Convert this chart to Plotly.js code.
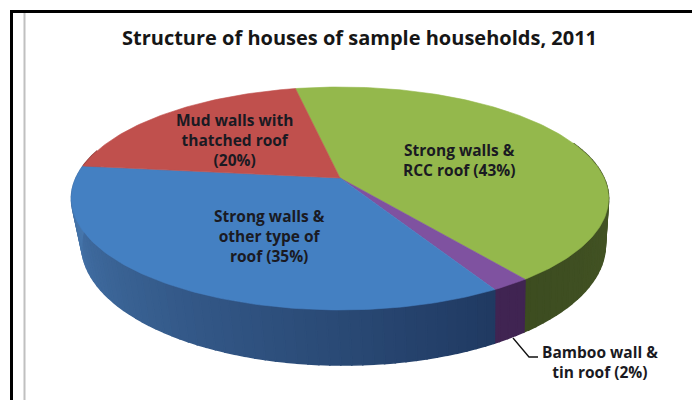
<!DOCTYPE html>
<html><head><meta charset="utf-8">
<script src="https://cdn.plot.ly/plotly-3.0.1.min.js"></script>
<style>html,body{margin:0;padding:0;background:#fff}#c{width:692px;height:400px}</style>
</head><body><div id="c"></div>
<script>
// Data
var categories = ["Strong walls & RCC roof", "Bamboo wall & tin roof", "Strong walls & other type of roof", "Mud walls with thatched roof"];
var values = [43, 2, 35, 20];
var labelTexts = ["Strong walls &<br>RCC roof (43%)", "Bamboo wall &<br>tin roof (2%)", "Strong walls &<br>other type of<br>roof (35%)", "Mud walls with<br>thatched roof<br>(20%)"];
var topColors = ["#94b84c", "#7f52a0", "#4480c2", "#c0504d"];
var wallFrom = [[86,104,48],[64,36,82],[32,58,98],[140,56,54]];   // colour at start angle of the slice wall
var wallTo   = [[60,76,32],[64,36,82],[74,124,180],[140,56,54]];  // colour at its end angle
var titleText = "Structure of houses of sample households, 2011";
var labelX = [459, 600, 269, 234];
var labelY = [160, 362, 236, 140];
var leaderX = [513, 529, 538];
var leaderY = [338, 357, 357];

// Projection of the tilted pie
var cx = 340, cy = 178, rx = 264, ry = 107.7, k = 0.1837, depth = 45, startAngle = -11.5;
function rad(d){ return d*Math.PI/180; }
function topPt(t){
  var X = Math.sin(rad(t)), Y = Math.cos(rad(t)), w = 1 + k*Y;
  return [cx + rx*X/w, cy - ry*Y/w];
}
function botPt(t){
  var p = topPt(t), Y = Math.cos(rad(t));
  return [p[0] - 0.025*(p[0]-480), p[1] + depth/(1 + k*Y)];
}
var bounds = [startAngle];
values.forEach(function(v,i){ bounds.push(bounds[i] + v*3.6); });

var traces = [];
function poly(xs, ys, color, w){
  traces.push({type:"scatter", mode:"lines", x:xs, y:ys, fill:"toself", fillcolor:color,
    line:{color:color, width:w}, hoverinfo:"skip", showlegend:false});
}
// Walls, in thin strips so the shading changes along the rim
var wallMin = 70, wallMax = 285, step = 2;
values.forEach(function(v,i){
  var a = Math.max(bounds[i], wallMin), b = Math.min(bounds[i+1], wallMax);
  for (var t = a; t < b; t += step){
    var e = Math.min(t+step, b), f = (t-bounds[i])/(bounds[i+1]-bounds[i]);
    var c = [0,1,2].map(function(j){ return Math.round(wallFrom[i][j] + (wallTo[i][j]-wallFrom[i][j])*f); });
    var p = [topPt(t), topPt(e), botPt(e), botPt(t)];
    poly(p.map(function(q){return q[0];}).concat(p[0][0]), p.map(function(q){return q[1];}).concat(p[0][1]), "rgb("+c.join(",")+")", 1.6);
  }
});
// Top face
values.forEach(function(v,i){
  var xs = [cx], ys = [cy];
  for (var t = bounds[i]; t < bounds[i+1]; t += 1){ var p = topPt(t); xs.push(p[0]); ys.push(p[1]); }
  var q = topPt(bounds[i+1]); xs.push(q[0], cx); ys.push(q[1], cy);
  poly(xs, ys, topColors[i], 0.6);
});
// Leader line
traces.push({type:"scatter", mode:"lines", x:leaderX, y:leaderY, line:{color:"#111", width:1.3}, hoverinfo:"skip", showlegend:false});

var font = "'Open Sans', Lato, sans-serif";
var annotations = labelTexts.map(function(s,i){
  return {x:labelX[i], y:labelY[i], xref:"x", yref:"y", text:"<b>"+s+"</b>", showarrow:false,
    font:{family:font, size:15.5, color:"#1a1a22"}, align:"center", xanchor:"center", yanchor:"middle"};
});
var layout = {
  width:692, height:400, margin:{l:0,r:0,t:0,b:0}, paper_bgcolor:"#fff", plot_bgcolor:"#fff", showlegend:false,
  title:{text:"<b>"+titleText+"</b>", x:359.5/692, xanchor:"center", y:1-38/400, yanchor:"middle", font:{family:font, size:20, color:"#161616"}},
  xaxis:{range:[0,692], visible:false, fixedrange:true},
  yaxis:{range:[400,0], visible:false, fixedrange:true},
  annotations:annotations,
  shapes:[
    {type:"line", xref:"paper", yref:"paper", x0:24.5/692, x1:24.5/692, y0:0, y1:1-13/400, line:{color:"#c0c0c0", width:2}},
    {type:"line", xref:"paper", yref:"paper", x0:11.5/692, x1:1, y0:1-11.5/400, y1:1-11.5/400, line:{color:"#000", width:3}},
    {type:"line", xref:"paper", yref:"paper", x0:11.5/692, x1:11.5/692, y0:0, y1:1-10/400, line:{color:"#000", width:3}}
  ]
};
Plotly.newPlot("c", traces, layout, {displayModeBar:false, staticPlot:true});
</script></body></html>
